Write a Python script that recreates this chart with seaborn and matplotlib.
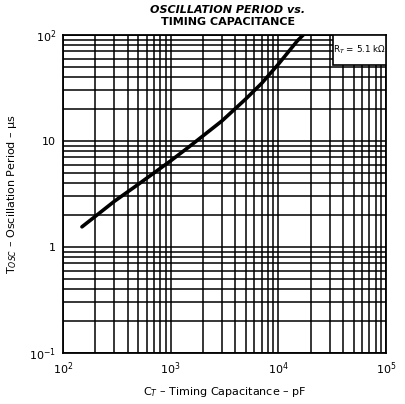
import numpy as np
import pandas as pd
import matplotlib
matplotlib.use("Agg")
import matplotlib.pyplot as plt
import seaborn as sns
from matplotlib.patches import Rectangle
from matplotlib.ticker import LogLocator, FixedLocator, NullFormatter

# curve
cap_pf = [150, 200, 300, 500, 700, 1000, 1500, 2000, 3000, 5000, 7000, 10000, 15000, 17000]
period_us = [1.55, 1.95, 2.7, 3.9, 5.0, 6.5, 8.9, 11.2, 15.5, 25.0, 35.0, 53.0, 88.0, 100.0]

x_ticks = [1e2, 1e3, 1e4, 1e5]
x_tick_labels = ["$10^2$", "$10^3$", "$10^4$", "$10^5$"]
y_ticks = [1e-1, 1, 10, 1e2]
y_tick_labels = ["$10^{-1}$", "1", "10", "$10^2$"]

df = pd.DataFrame({"cap": cap_pf, "period": period_us})

sns.set_style("white")
plt.rcParams['font.family'] = ['DejaVu Sans']
plt.rcParams['text.color'] = 'black'
plt.rcParams['axes.labelcolor'] = 'black'
plt.rcParams['xtick.color'] = 'black'
plt.rcParams['ytick.color'] = 'black'

fig = plt.figure(figsize=(4.05, 4.04), dpi=100)
ax = fig.add_axes([63 / 405, 1 - 353 / 404, 323 / 405, 318 / 404])

sns.lineplot(data=df, x="cap", y="period", ax=ax, color="black", linewidth=2.6)
ax.set_xscale("log")
ax.set_yscale("log")
ax.set_xlim(1e2, 1e5)
ax.set_ylim(1e-1, 1e2)

# log-paper grid
ax.xaxis.set_major_locator(FixedLocator(x_ticks))
ax.yaxis.set_major_locator(FixedLocator(y_ticks))
ax.xaxis.set_minor_locator(LogLocator(base=10, subs=np.arange(2, 10)))
ax.yaxis.set_minor_locator(LogLocator(base=10, subs=np.arange(2, 10)))
ax.xaxis.set_minor_formatter(NullFormatter())
ax.yaxis.set_minor_formatter(NullFormatter())
ax.set_xticklabels(x_tick_labels)
ax.set_yticklabels(y_tick_labels)
ax.grid(True, which="both", color="black", linewidth=1.1)
ax.tick_params(which="both", length=0, labelsize=8, pad=5)
for s in ax.spines.values():
    s.set_color("black")
    s.set_linewidth(1.3)

ax.set_xlabel("C$_T$ – Timing Capacitance – pF", fontsize=8, labelpad=6)
ax.set_ylabel("T$_{OSC}$ – Oscillation Period – µs", fontsize=8, labelpad=7)

# R_T label box in the top-right corner
ax.add_patch(Rectangle((0.836, 0.906), 0.164, 0.094, transform=ax.transAxes,
                       facecolor="white", edgecolor="black", linewidth=1.2, zorder=5))
ax.text(0.918, 0.953, "R$_T$ = 5.1 kΩ", transform=ax.transAxes, fontsize=6.3,
        ha="center", va="center", zorder=6)

fig.text(0.563, 0.975, "OSCILLATION PERIOD vs.", ha="center", va="center",
         fontsize=8, fontweight="bold", style="italic")
fig.text(0.563, 0.945, "TIMING CAPACITANCE", ha="center", va="center",
         fontsize=8, fontweight="bold")

fig.savefig("out.png", dpi=100)
